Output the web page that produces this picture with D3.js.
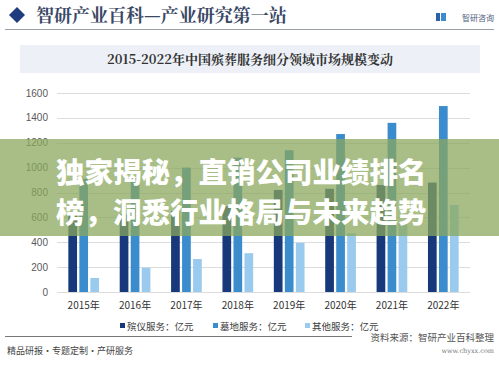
<!DOCTYPE html>
<html><head><meta charset="utf-8">
<script src="https://cdn.jsdelivr.net/npm/d3@7"></script>
<style>body{margin:0;background:#fff}svg{display:block}</style>
</head><body>
<script>
const years = ["2015年","2016年","2017年","2018年","2019年","2020年","2021年","2022年"];
const seriesNames = ["殡仪服务：亿元","墓地服务：亿元","其他服务：亿元"];
const funeral = [620, 625, 650, 690, 820, 830, 860, 880];
const cemetery = [910, 920, 1000, 1080, 1140, 1270, 1360, 1495];
const other = [113, 195, 265, 312, 395, 472, 560, 700];
const yTicks = [0,200,400,600,800,1000,1200,1400,1600];
const colors = ["#17387b","#3a8ccd","#9acbef"];

const W=499,H=377;
const svg=d3.select("body").append("svg").attr("width",W).attr("height",H);
const serif="'Noto Serif CJK SC','Noto Sans CJK SC',serif";
const sans="'Noto Sans CJK SC','Noto Sans',sans-serif";

// header
svg.append("path").attr("d","M9,15 L17,7 L25,15 L17,23 Z").attr("fill","#1f3c7e");
svg.append("text").attr("x",36).attr("y",22).attr("font-family",serif).attr("font-weight","bold")
  .attr("font-size",18).attr("fill","#3a4866").text("智研产业百科—产业研究第一站");
svg.append("rect").attr("x",436).attr("y",13).attr("width",4).attr("height",8).attr("fill","#2f5fa8");
svg.append("rect").attr("x",441).attr("y",13).attr("width",5).attr("height",8).attr("fill","#3a8ccd");
svg.append("text").attr("x",494).attr("y",21).attr("text-anchor","end").attr("font-family",sans)
  .attr("font-size",8).attr("fill","#506080").text("智研咨询");
svg.append("line").attr("x1",5).attr("x2",494).attr("y1",29.5).attr("y2",29.5).attr("stroke","#9aa0aa").attr("stroke-width",1);

// title band
svg.append("rect").attr("x",20).attr("y",45).attr("width",460).attr("height",28).attr("fill","#edf1f7");
svg.append("text").attr("x",250).attr("y",63.5).attr("text-anchor","middle").attr("font-family",serif)
  .attr("font-weight","bold").attr("font-size",13).attr("fill","#333").text("2015-2022年中国殡葬服务细分领域市场规模变动");

// scales
const x=d3.scaleBand().domain(years).range([58,469]).paddingInner(0).paddingOuter(0);
const y=d3.scaleLinear().domain([0,1600]).range([292,93]);
const bw=8.7, gap=2.3;

// grid
svg.append("g").selectAll("line").data(yTicks).join("line")
  .attr("x1",57).attr("x2",470).attr("y1",d=>Math.round(y(d))+0.5).attr("y2",d=>Math.round(y(d))+0.5)
  .attr("stroke","#dcdcdc");
svg.append("g").selectAll("text").data(yTicks).join("text")
  .attr("x",48).attr("y",d=>y(d)+3.5).attr("text-anchor","end").attr("font-family","Arial, 'Liberation Sans', sans-serif")
  .attr("font-size",10).attr("fill","#595959").text(d=>d);

// bars
const series=[funeral,cemetery,other];
series.forEach((vals,si)=>{
  svg.append("g").selectAll("rect").data(vals).join("rect")
    .attr("x",(d,i)=>x(years[i])+x.bandwidth()/2+(si-1)*(bw+gap)-bw/2)
    .attr("width",bw)
    .attr("y",d=>y(d)).attr("height",d=>y(0)-y(d))
    .attr("fill",colors[si]);
});

// x labels
svg.append("g").selectAll("text").data(years).join("text")
  .attr("x",d=>x(d)+x.bandwidth()/2).attr("y",309).attr("text-anchor","middle")
  .attr("font-family",sans).attr("font-size",10).attr("fill","#333").text(d=>d);

// legend
const lx=[120,213,305];
seriesNames.forEach((n,i)=>{
  svg.append("rect").attr("x",lx[i]).attr("y",323).attr("width",5).attr("height",5).attr("fill",colors[i]);
  svg.append("text").attr("x",lx[i]+7).attr("y",330).attr("font-family",sans).attr("font-size",9.5)
    .attr("fill","#404040").text(n);
});

// footer
svg.append("line").attr("x1",5).attr("x2",352).attr("y1",336.5).attr("y2",336.5).attr("stroke","#777");
svg.append("text").attr("x",494).attr("y",341).attr("text-anchor","end").attr("font-family",sans)
  .attr("font-size",9.5).attr("fill","#555").text("资料来源：智研产业百科整理");
svg.append("text").attr("x",494).attr("y",353).attr("text-anchor","end").attr("font-family","'DejaVu Serif',serif")
  .attr("font-size",6.5).attr("fill","#777").text("www.chyxx.com");
svg.append("text").attr("x",7).attr("y",354).attr("font-family",sans)
  .attr("font-size",9).attr("fill","#444").text("精品研报・专题定制・产研服务");

// overlay banner
svg.append("rect").attr("x",0).attr("y",139).attr("width",W).attr("height",97)
  .attr("fill","#8aa75c").attr("opacity",0.74);
const ov=["独家揭秘，直销公司业绩排名","榜，洞悉行业格局与未来趋势"];
ov.forEach((t,i)=>{
  svg.append("text").attr("x",56).attr("y",183+i*40).attr("font-family","'Noto Sans CJK SC',sans-serif")
    .attr("font-weight",900).attr("font-size",28.5).attr("fill","#fff").text(t);
});
</script>
</body></html>
